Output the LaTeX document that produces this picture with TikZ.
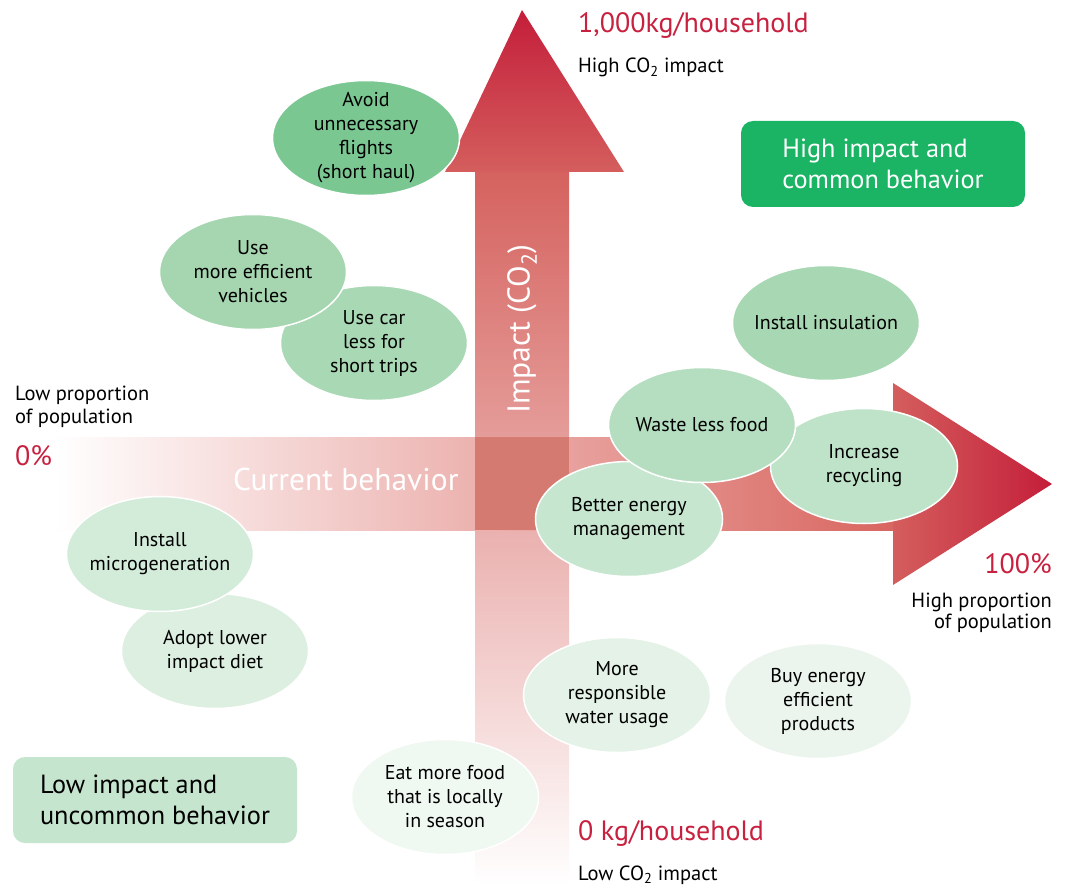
\documentclass[tikz,border=0pt]{standalone}
\usepackage{fontspec}
\setmainfont{PT Sans}
\usetikzlibrary{shapes.geometric}
\definecolor{crim}{RGB}{200,32,63}
\definecolor{arrowdark}{RGB}{196,30,58}
\definecolor{arrowmid}{RGB}{212,94,93}
\definecolor{shaftv}{RGB}{213,98,94}
\definecolor{shafth}{RGB}{217,102,96}
\definecolor{overlap}{RGB}{212,122,112}
\definecolor{boxhigh}{RGB}{27,180,100}
\definecolor{boxlow}{RGB}{197,229,206}
\definecolor{gA}{RGB}{122,199,146}
\definecolor{gB}{RGB}{165,214,176}
\definecolor{gC}{RGB}{169,216,180}
\definecolor{gD}{RGB}{168,216,179}
\definecolor{gE}{RGB}{181,222,192}
\definecolor{gF}{RGB}{191,227,200}
\definecolor{gG}{RGB}{199,230,207}
\definecolor{gH}{RGB}{211,235,217}
\definecolor{gI}{RGB}{220,239,225}
\definecolor{gJ}{RGB}{228,242,231}
\definecolor{gK}{RGB}{235,245,237}
\definecolor{gL}{RGB}{240,248,242}
\tikzset{
  bubble/.style={ellipse, draw=white, line width=1.5pt, minimum width=187pt, minimum height=115pt, inner xsep=-40pt, inner ysep=-30pt, align=center, font=\fontsize{20}{24}\selectfont, text=black},
  quadbox/.style={rounded corners=12pt, minimum width=284pt, minimum height=86pt, align=left, font=\fontsize{26.3}{31}\selectfont},
  biglabel/.style={anchor=base west, text=crim, font=\fontsize{28}{32}\selectfont, inner sep=0pt},
  smalllabel/.style={anchor=base west, text=black, font=\fontsize{20.5}{24}\selectfont, inner sep=0pt},
  axislabel/.style={text=white, font=\fontsize{31.5}{36}\selectfont, inner sep=0pt}
}
\begin{document}
\begin{tikzpicture}[x=1pt,y=-1pt]
\useasboundingbox (0,0) rectangle (1067,885);
% vertical shaft
\shade[top color=shaftv, bottom color=white] (475,172) rectangle (569,885);
% horizontal shaft
\shade[left color=white, right color=shafth] (55,437) rectangle (893,530);
% overlap
\fill[overlap] (475,437) rectangle (569,530);
% arrow heads
\shade[top color=arrowdark, bottom color=arrowmid] (522,10) -- (624,172) -- (445,172) -- cycle;
\shade[left color=arrowmid, right color=arrowdark] (893,383) -- (1052,484) -- (893,585) -- cycle;
% axis texts
\node[axislabel, rotate=90] (impact) at (522,329) {Impact (CO\textsubscript{2})};
\node[axislabel, anchor=west] (current) at (233,479) {Current behavior};
% bubbles
\node[bubble, fill=gA] (flights) at (366,138) {Avoid\\unnecessary\\flights\\(short haul)};
\node[bubble, fill=gC] (carless) at (374,343) {Use car\\less for\\short trips};
\node[bubble, fill=gB] (vehicles) at (253,272) {Use\\more efficient\\vehicles};
\node[bubble, fill=gD] (insulation) at (826,323) {Install insulation};
\node[bubble, fill=gG] (energy) at (629,519) {Better energy\\management};
\node[bubble, fill=gF] (recycling) at (864,466) {Increase\\recycling};
\node[bubble, fill=gE] (waste) at (702,425) {Waste less food};
\node[bubble, fill=gI] (diet) at (215,651) {Adopt lower\\impact diet};
\node[bubble, fill=gH] (microgen) at (160,554) {Install\\microgeneration};
\node[bubble, fill=gJ] (water) at (617,695) {More\\responsible\\water usage};
\node[bubble, fill=gK] (products) at (818,701) {Buy energy\\efficient\\products};
\node[bubble, fill=gL] (local) at (445,797) {Eat more food\\that is locally\\in season};
% quadrant boxes
\node[quadbox, fill=boxhigh, text=white] (high) at (883,164) {High impact and\\common behavior};
\node[quadbox, fill=boxlow, text=black] (low) at (155,800) {Low impact and\\uncommon behavior};
% labels
\node[biglabel] (kgtop) at (578,33) {1,000kg/household};
\node[smalllabel] (hico) at (578,73) {High CO\textsubscript{2} impact};
\node[smalllabel] (lowp1) at (15,400) {Low proportion};
\node[smalllabel] (lowp2) at (15,423) {of population};
\node[biglabel] (zero) at (15,465) {0\%};
\node[biglabel, anchor=base east] (hundred) at (1052,573) {100\%};
\node[smalllabel, anchor=base east] (highp1) at (1052,607) {High proportion};
\node[smalllabel, anchor=base east] (highp2) at (1052,628) {of population};
\node[biglabel] (kgbot) at (578,840) {0 kg/household};
\node[smalllabel] (loco) at (578,880) {Low CO\textsubscript{2} impact};
\end{tikzpicture}
\end{document}
